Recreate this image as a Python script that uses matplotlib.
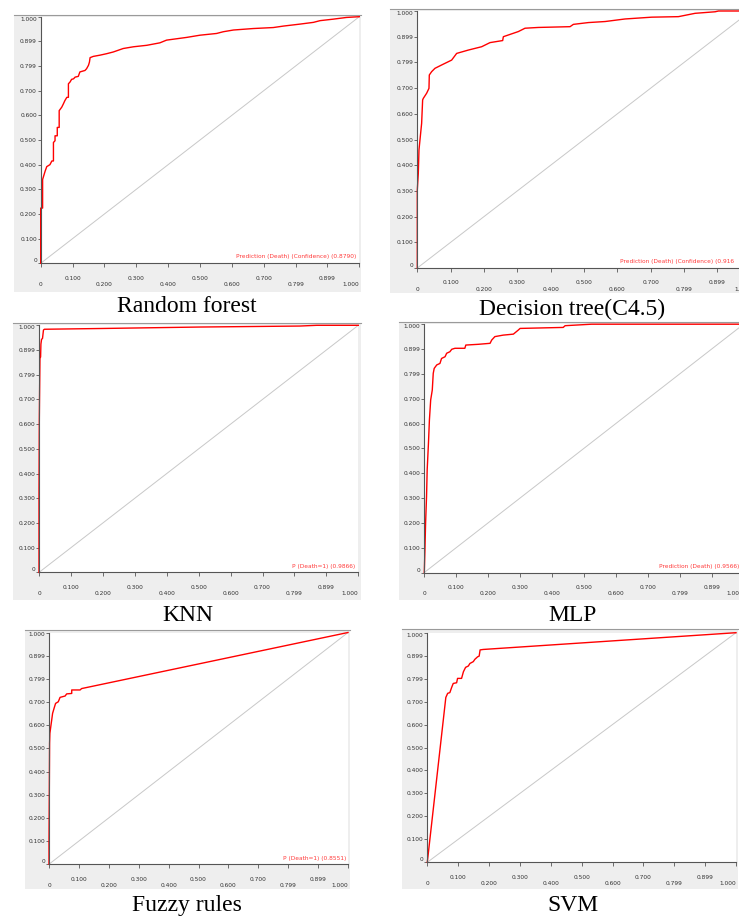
import matplotlib
matplotlib.use("Agg")
import matplotlib.pyplot as plt

# ROC curves (false positive rate, true positive rate)
rf_fpr = [0, 0, 0.006, 0.006, 0.014, 0.019, 0.029, 0.035, 0.040, 0.040, 0.045, 0.045,
          0.052, 0.052, 0.058, 0.058, 0.066, 0.071, 0.076, 0.082, 0.087, 0.087, 0.092,
          0.097, 0.103, 0.108, 0.118, 0.123, 0.139, 0.144, 0.150, 0.153, 0.155, 0.165,
          0.186, 0.207, 0.228, 0.259, 0.291, 0.333, 0.374, 0.395, 0.458, 0.500, 0.552,
          0.573, 0.605, 0.667, 0.730, 0.762, 0.814, 0.856, 0.877, 0.918, 0.960, 1.0]
rf_tpr = [0, 0.224, 0.224, 0.340, 0.374, 0.392, 0.400, 0.415, 0.415, 0.490, 0.497, 0.517,
          0.517, 0.551, 0.551, 0.619, 0.633, 0.646, 0.660, 0.673, 0.673, 0.728, 0.735,
          0.746, 0.748, 0.755, 0.758, 0.776, 0.782, 0.789, 0.803, 0.816, 0.834, 0.839,
          0.844, 0.850, 0.857, 0.871, 0.878, 0.884, 0.894, 0.905, 0.916, 0.925, 0.932,
          0.939, 0.946, 0.952, 0.956, 0.962, 0.970, 0.977, 0.984, 0.990, 0.997, 1.0]

dt_fpr = [0, 0, 0.003, 0.005, 0.010, 0.013, 0.016, 0.018, 0.028, 0.035, 0.036, 0.043,
          0.053, 0.073, 0.103, 0.118, 0.153, 0.193, 0.218, 0.256, 0.258, 0.303, 0.323,
          0.363, 0.458, 0.468, 0.513, 0.563, 0.623, 0.703, 0.783, 0.833, 0.893, 0.903, 1.0]
dt_tpr = [0, 0.303, 0.368, 0.459, 0.524, 0.563, 0.654, 0.660, 0.680, 0.699, 0.751, 0.764,
          0.777, 0.790, 0.809, 0.835, 0.848, 0.861, 0.877, 0.885, 0.900, 0.920, 0.933,
          0.936, 0.939, 0.948, 0.955, 0.959, 0.969, 0.976, 0.978, 0.991, 0.997, 1.0, 1.0]

knn_fpr = [0, 0, 0.001, 0.003, 0.005, 0.006, 0.008, 0.011, 0.014, 0.017, 0.191, 0.504,
           0.817, 0.870, 1.0]
knn_tpr = [0, 0.320, 0.620, 0.866, 0.872, 0.924, 0.943, 0.947, 0.981, 0.984, 0.987,
           0.993, 0.997, 1.0, 1.0]

mlp_fpr = [0, 0.002, 0.004, 0.007, 0.009, 0.013, 0.016, 0.020, 0.025, 0.028, 0.031,
           0.039, 0.049, 0.054, 0.065, 0.070, 0.080, 0.086, 0.096, 0.127, 0.130, 0.169,
           0.206, 0.211, 0.221, 0.247, 0.279, 0.294, 0.300, 0.435, 0.441, 0.524, 1.0]
mlp_tpr = [0, 0.090, 0.198, 0.305, 0.413, 0.520, 0.614, 0.695, 0.735, 0.802, 0.822,
           0.836, 0.842, 0.862, 0.869, 0.883, 0.889, 0.899, 0.903, 0.903, 0.916, 0.919,
           0.923, 0.936, 0.950, 0.956, 0.960, 0.976, 0.983, 0.987, 0.994, 1.0, 1.0]

fuzzy_fpr = [0, 0, 0.001, 0.002, 0.003, 0.006, 0.009, 0.012, 0.017, 0.022, 0.031, 0.037,
             0.054, 0.059, 0.076, 0.076, 0.104, 0.109, 1.0]
fuzzy_tpr = [0, 0.090, 0.306, 0.522, 0.565, 0.594, 0.622, 0.651, 0.673, 0.694, 0.701,
             0.720, 0.726, 0.735, 0.737, 0.752, 0.752, 0.758, 1.0]

svm_fpr = [0, 0.060, 0.066, 0.073, 0.079, 0.084, 0.095, 0.098, 0.111, 0.117, 0.124,
           0.133, 0.138, 0.149, 0.154, 0.163, 0.168, 0.171, 0.181, 1.0]
svm_tpr = [0, 0.718, 0.736, 0.739, 0.762, 0.779, 0.782, 0.801, 0.801, 0.830, 0.849,
           0.855, 0.866, 0.874, 0.884, 0.895, 0.898, 0.925, 0.927, 1.0]

captions = ["Random forest", "Decision tree(C4.5)", "KNN", "MLP", "Fuzzy rules", "SVM"]
legend_texts = ["Prediction (Death) (Confidence) (0.8790)",
                "Prediction (Death) (Confidence) (0.916",
                "P (Death=1) (0.9866)",
                "Prediction (Death) (0.9566)",
                "P (Death=1) (0.8551)",
                ""]

y_tick_vals = [0, 0.1, 0.2, 0.3, 0.4, 0.5, 0.6, 0.7, 0.8, 0.9, 1.0]
y_tick_labels = ["0", "0.100", "0.200", "0.300", "0.400", "0.500", "0.600", "0.700",
                 "0.799", "0.899", "1.000"]
x_upper_vals = [0.1, 0.3, 0.5, 0.7, 0.9]
x_upper_labels = ["0.100", "0.300", "0.500", "0.700", "0.899"]
x_lower_vals = [0, 0.2, 0.4, 0.6, 0.8, 1.0]
x_lower_labels = ["0", "0.200", "0.400", "0.600", "0.799", "1.000"]

curves = [(rf_fpr, rf_tpr), (dt_fpr, dt_tpr), (knn_fpr, knn_tpr),
          (mlp_fpr, mlp_tpr), (fuzzy_fpr, fuzzy_tpr), (svm_fpr, svm_tpr)]

# layout in pixels: plot box, grey screenshot box, caption anchor, legend anchor
W, H = 739, 916
layout = [
    dict(plot=(40.7, 16.7, 359.3, 263.3), bg=(14, 15, 361, 292), cap=(187, 312),
         leg=(0.99, 0.027, "right")),
    dict(plot=(417.3, 11, 750.8, 268), bg=(390, 8.5, 770, 293), cap=(572.5, 315.5),
         leg=(0.608, 0.025, "left")),
    dict(plot=(39, 325.3, 358.3, 572.4), bg=(13.3, 323.3, 360.7, 600), cap=(187.5, 621),
         leg=(0.99, 0.023, "right")),
    dict(plot=(424.3, 324.2, 743.6, 572.5), bg=(399, 322.3, 770, 600), cap=(572.5, 621),
         leg=(0.735, 0.023, "left")),
    dict(plot=(49, 632.5, 348, 864.2), bg=(25, 630, 349.5, 889), cap=(187, 910.6),
         leg=(0.996, 0.025, "right")),
    dict(plot=(427.3, 632.7, 736, 862.3), bg=(402.3, 629.3, 738.3, 889.3), cap=(572.5, 911),
         leg=(0.99, 0.025, "right")),
]


def box(x0, y0, x1, y1):
    return [x0 / W, 1 - y1 / H, (x1 - x0) / W, (y1 - y0) / H]


fig = plt.figure(figsize=(W / 100, H / 100), dpi=100)
fig.patch.set_facecolor("white")

tick_font = dict(family="DejaVu Sans", size=4.2, color="#333333")

for (fpr, tpr), cap, leg_txt, lay in zip(curves, captions, legend_texts, layout):
    # grey screenshot background
    bg = fig.add_axes(box(*lay["bg"]))
    bg.set_facecolor("#eeeeee")
    bg.set_xticks([])
    bg.set_yticks([])
    for s in bg.spines.values():
        s.set_visible(False)
    bg.spines["top"].set_visible(True)
    bg.spines["top"].set_color("#9a9a9a")
    bg.spines["top"].set_linewidth(0.8)

    ax = fig.add_axes(box(*lay["plot"]))
    ax.set_facecolor("white")
    ax.set_xlim(0, 1)
    ax.set_ylim(0, 1)

    # diagonal reference and the ROC curve
    ax.plot([0, 1], [0, 1], color="#c8c8c8", lw=0.7, zorder=1)
    ax.plot(fpr, tpr, color="#ff0000", lw=1.0, zorder=2, clip_on=False)

    ax.spines["top"].set_visible(False)
    ax.spines["right"].set_visible(False)
    for s in ("left", "bottom"):
        ax.spines[s].set_color("#555555")
        ax.spines[s].set_linewidth(0.8)

    ax.set_yticks(y_tick_vals)
    ax.set_yticklabels(y_tick_labels, **tick_font)
    ax.tick_params(axis="y", length=2.2, width=0.6, color="#555555", pad=0.5)
    ylabels = ax.get_yticklabels()
    ylabels[0].set_va("bottom")
    ylabels[-1].set_va("top")

    ax.set_xticks(x_upper_vals)
    ax.set_xticklabels(x_upper_labels, **tick_font)
    ax.set_xticks(x_lower_vals, minor=True)
    ax.set_xticklabels(x_lower_labels, minor=True, **tick_font)
    ax.get_xticklabels(minor=True)[-1].set_ha("right")
    ax.tick_params(axis="x", which="major", length=3, width=0.6, color="#555555", pad=6)
    ax.tick_params(axis="x", which="minor", length=3, width=0.6, color="#555555", pad=10.5)

    if leg_txt:
        lx, ly, ha = lay["leg"]
        ax.text(lx, ly, leg_txt, transform=ax.transAxes, ha=ha, va="center",
                family="DejaVu Sans", size=4.2, color="#ff3b3b")

    cx, cy = lay["cap"]
    fig.text(cx / W, 1 - cy / H, cap, ha="center", va="baseline",
             family="Liberation Serif", size=17, color="black")

fig.savefig("out.png", dpi=100)
